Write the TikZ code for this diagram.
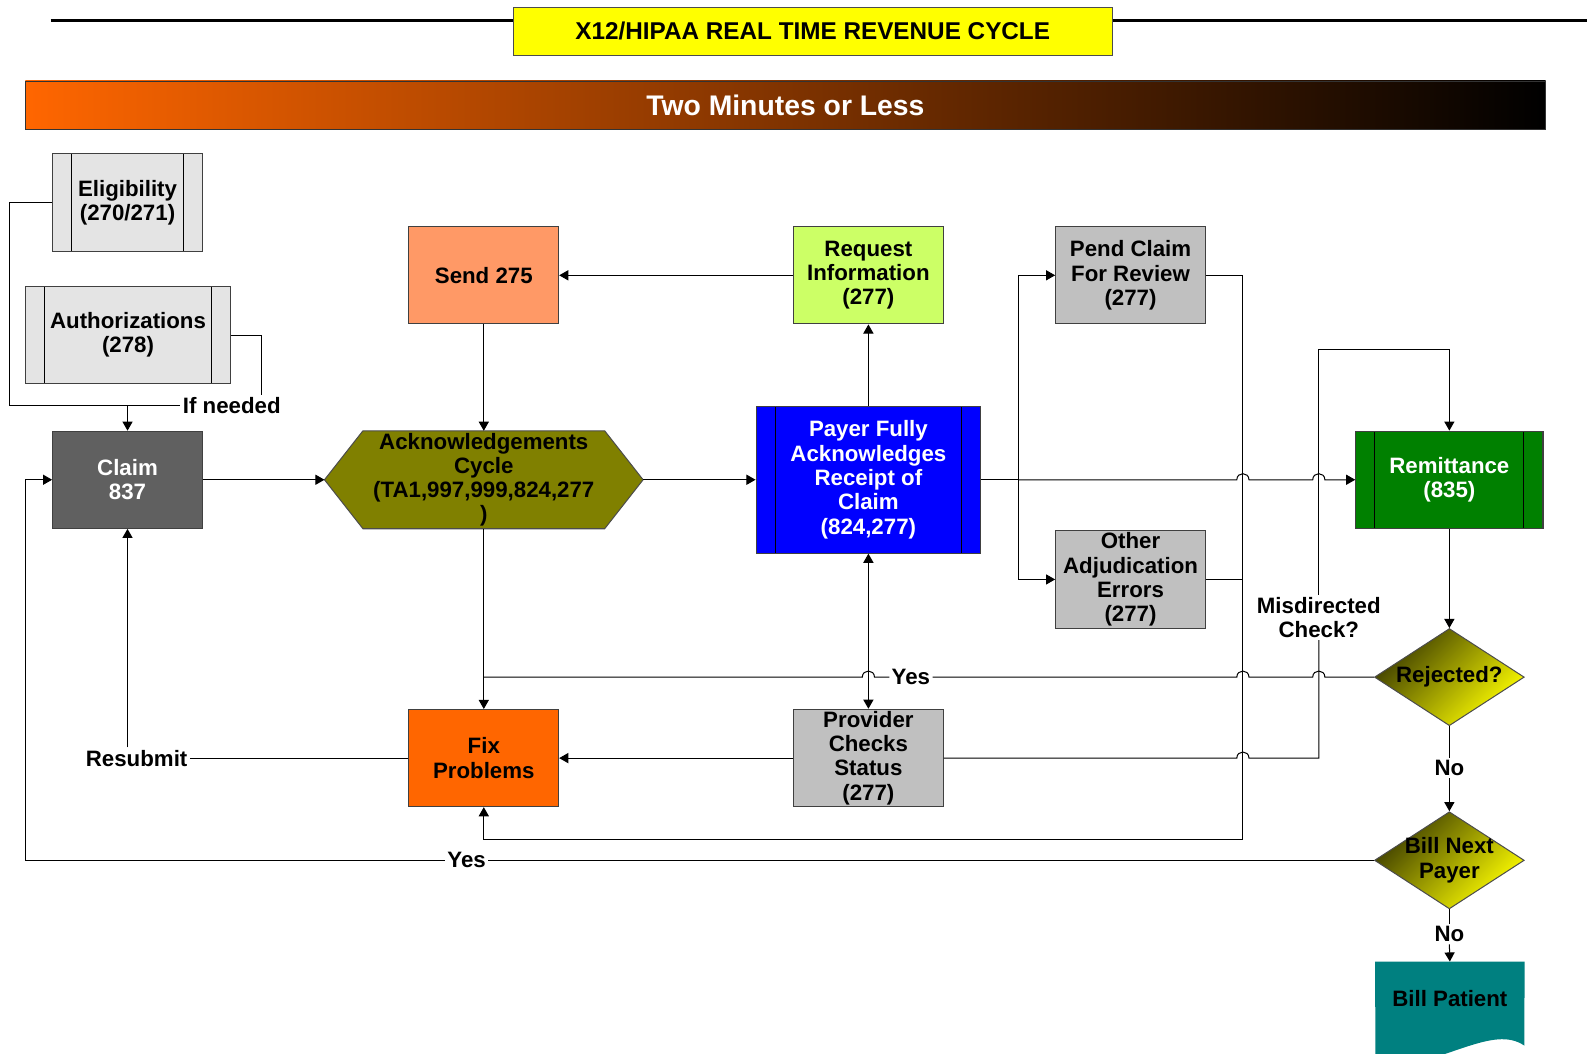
\documentclass[tikz,border=0pt]{standalone}
\usepackage{fontspec}
\setmainfont{Liberation Sans}
\usetikzlibrary{arrows.meta,shapes.geometric,backgrounds}

\definecolor{hdryellow}{RGB}{255,255,0}
\definecolor{bannerorange}{RGB}{255,102,0}
\definecolor{litegray}{RGB}{228,228,228}
\definecolor{claimgray}{RGB}{96,96,96}
\definecolor{ackolive}{RGB}{128,128,0}
\definecolor{sendsalmon}{RGB}{255,153,102}
\definecolor{reqgreen}{RGB}{204,255,102}
\definecolor{silvergray}{RGB}{192,192,192}
\definecolor{payerblue}{RGB}{0,0,255}
\definecolor{remitgreen}{RGB}{0,128,0}
\definecolor{fixorange}{RGB}{255,102,0}
\definecolor{billteal}{RGB}{0,128,128}
\definecolor{diadark}{RGB}{60,60,0}

\newcommand{\boxfont}{\fontsize{11}{12}\selectfont\bfseries}
% line hops over crossing wires
\newcommand{\hopR}[2]{-- (#1-6,#2) .. controls (#1-6,#2-8) and (#1+6,#2-8) .. (#1+6,#2)}
\newcommand{\hopL}[2]{-- (#1+6,#2) .. controls (#1+6,#2-8) and (#1-6,#2-8) .. (#1-6,#2)}

\tikzset{
	box/.style={draw=black!75, line width=0.5pt, minimum width=74pt, minimum height=48pt,
		align=center, inner sep=1pt, font=\boxfont},
	barbox/.style={box, path picture={
			\draw[black] ([xshift=9.5pt]path picture bounding box.north west) -- ([xshift=9.5pt]path picture bounding box.south west);
			\draw[black] ([xshift=-9.5pt]path picture bounding box.north east) -- ([xshift=-9.5pt]path picture bounding box.south east);}},
	hexa/.style={minimum width=157pt, minimum height=48pt, align=center, inner sep=0pt, font=\boxfont},
	decision/.style={diamond, draw=black!70, line width=0.5pt, minimum width=74pt, minimum height=48pt,
		inner sep=0pt, top color=diadark, bottom color=hdryellow, shading angle=45},
	lbl/.style={inner sep=1pt, align=center, font=\boxfont},
	conn/.style={line width=0.5pt},
}

\begin{document}
\begin{tikzpicture}[x=0.5pt, y=-0.5pt, >={Triangle[length=4.5pt,width=5pt]}]
	\useasboundingbox (0,0) rectangle (1568,1041);
	
	% header
	\coordinate (tl) at (50,20);
	\coordinate (tr) at (1568,20);
	\node[draw=black!70, fill=hdryellow, minimum width=296pt, minimum height=24pt, font=\fontsize{12}{14}\selectfont\bfseries] (title) at (803,31) {X12/HIPAA REAL TIME REVENUE CYCLE};
	\draw[line width=1.5pt] (tl) -- (title.west |- tl);
	\draw[line width=1.5pt] (title.east |- tl) -- (tr);
	\node[draw=black!80, left color=bannerorange, right color=black, minimum width=751pt, minimum height=24pt, text=white, font=\fontsize{14}{16}\selectfont\bfseries] (banner) at (776,104) {Two Minutes or Less};
	
	% boxes
	\node[barbox, fill=litegray, minimum height=48.5pt] (elig) at (126,200) {Eligibility\\(270/271)};
	\node[barbox, fill=litegray, minimum width=101.5pt] (auth) at (126.5,331) {Authorizations\\(278)};
	\node[box, fill=claimgray, text=white] (claim) at (126,474) {Claim\\837};
	\node[hexa] (ack) at (478,474) {Acknowledgements\\Cycle\\(TA1,997,999,824,277\\)};
	\node[box, fill=sendsalmon] (send) at (478,272) {Send 275};
	\node[box, fill=reqgreen] (req) at (858,272) {Request\\Information\\(277)};
	\node[barbox, fill=payerblue, text=white, minimum width=111pt, minimum height=72.5pt] (payer) at (858,474) {Payer Fully\\Acknowledges\\Receipt of\\Claim\\(824,277)};
	\node[box, fill=silvergray] (pend) at (1117,272) {Pend Claim\\For Review\\(277)};
	\node[box, fill=silvergray, minimum height=48.5pt] (other) at (1117,572.5) {Other\\Adjudication\\Errors\\(277)};
	\node[barbox, fill=remitgreen, text=white, minimum width=92.5pt] (remit) at (1432,474) {Remittance\\(835)};
	\node[decision, label={[lbl]center:Rejected?}] (rej) at (1432,669) {};
	\node[decision, label={[lbl]center:Bill Next\\Payer}] (billnext) at (1432,850) {};
	\node[box, fill=fixorange] (fix) at (478,749) {Fix\\Problems};
	\node[box, fill=silvergray] (prov) at (858,749) {Provider\\Checks\\Status\\(277)};
	\node[lbl, minimum width=73.5pt, minimum height=36pt, anchor=north] (patient) at (1432.5,950) {Bill Patient};
	
	\begin{scope}[on background layer]
		\filldraw[fill=ackolive, draw=black!70, line width=0.5pt] (ack.west) -- ([xshift=19pt]ack.north west) -- ([xshift=-19pt]ack.north east) -- (ack.east) -- ([xshift=-19pt]ack.south east) -- ([xshift=19pt]ack.south west) -- cycle;
		\fill[billteal] (patient.north west) -- (patient.north east) -- (1506,1033) .. controls (1475,1012) and (1430,1050) .. (1359,1058) -- cycle;
	\end{scope}
	
	% labels
	\node[lbl] (ifneeded) at (229,401) {If needed};
	\node[lbl] (yes1) at (900,669) {Yes};
	\node[lbl] (yes2) at (461,850) {Yes};
	\node[lbl] (no1) at (1432,759) {No};
	\node[lbl] (no2) at (1432,923) {No};
	\node[lbl] (resub) at (135,749) {Resubmit};
	\node[lbl] (misd) at (1303,610) {Misdirected\\Check?};
	
	\coordinate (lft) at (9,401);
	\coordinate (authc) at (258,331);
	\coordinate (br) at (1006,474);
	\coordinate (rc) at (1228,829);
	\coordinate (lc) at (25,474);
	\coordinate (mtop) at (1303,345);
	
	% connectors
	\draw[conn] (elig.west) -| (lft) -- (ifneeded.west);
	\draw[conn] (auth.east) -- (authc) -- (authc |- ifneeded.north);
	\draw[conn,->] (claim.north |- lft) -- (claim.north);
	\draw[conn,->] (claim.east) -- (ack.west);
	\draw[conn,->] (ack.east) -- (payer.west);
	\draw[conn,->] (send.south) -- (ack.north);
	\draw[conn,->] (req.west) -- (send.east);
	\draw[conn,->] (payer.north) -- (req.south);
	\draw[conn] (payer.east) -- (br);
	\draw[conn,->] (br) |- (pend.west);
	\draw[conn,->] (br) |- (other.west);
	\draw[conn,->] (br) \hopR{1228}{474} \hopR{1303}{474} -- (remit.west);
	\draw[conn,->] (pend.east) -| (rc) -| (fix.south);
	\draw[conn] (other.east) -- (other.east -| rc);
	\draw[conn,->] (remit.south) -- (rej.north);
	\draw[conn] (rej.west) \hopL{1303}{669} \hopL{1228}{669} -- (yes1.east);
	\draw[conn] (yes1.west) \hopL{858}{669} -- (yes1.west -| fix.north);
	\draw[conn,->] (ack.south) -- (fix.north);
	\draw[conn] (rej.south) -- (no1.north);
	\draw[conn,->] (no1.south) -- (billnext.north);
	\draw[conn] (billnext.south) -- (no2.north);
	\draw[conn,->] (no2.south) -- (patient.north);
	\draw[conn] (billnext.west) -- (yes2.east);
	\draw[conn,->] (yes2.west) -| (lc) -- (claim.west);
	\draw[conn,<->] (payer.south) -- (prov.north);
	\draw[conn,->] (prov.west) -- (fix.east);
	\draw[conn] (prov.east) \hopR{1228}{749} -| (misd.south);
	\draw[conn,->] (misd.north) -- (mtop) -| (remit.north);
	\draw[conn] (fix.west) -- (resub.east);
	\draw[conn,->] (resub.north -| claim.south) -- (claim.south);
\end{tikzpicture}
\end{document}
